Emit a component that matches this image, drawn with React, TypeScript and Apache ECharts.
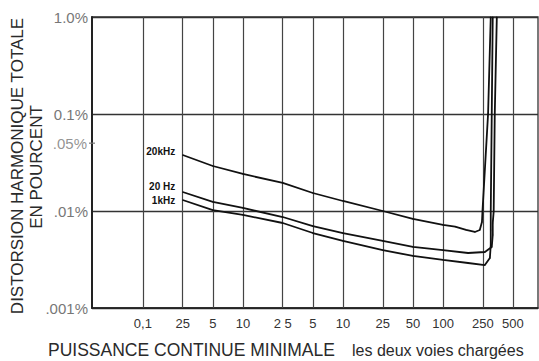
import React, { useEffect, useRef } from "react";
import * as echarts from "echarts";

// Power (W) grid positions and their printed labels
const xGridW = [0.1, 0.25, 0.5, 1, 2.5, 5, 10, 25, 50, 100, 250, 500];
const xTickLabels = ["0,1", "25", "5", "10", "2 5", "5", "10", "25", "50", "100", "250", "500"];

// THD (%) axis ticks and labels
const yTickValues = [0.001, 0.01, 0.1, 1];
const yTickLabels = [".001%", ".01%", "0.1%", "1.0%"];
const yExtraTick = 0.05;
const yExtraLabel = ".05%";

// Curves: power (W) and THD (%)
const powerW20k = [0.25, 0.5, 1, 2.5, 5, 10, 25, 50, 100, 132, 170, 208, 233, 245, 248, 282, 300];
const thd20k = [0.0378, 0.0291, 0.0241, 0.01945, 0.01533, 0.01268, 0.01, 0.00828, 0.00718, 0.0069, 0.0064, 0.00608, 0.00637, 0.0077, 0.0099, 0.1, 1.0];

const powerW20Hz = [0.25, 0.5, 1, 2.5, 5, 10, 25, 50, 100, 178, 262, 307, 314, 314, 321, 329, 345];
const thd20Hz = [0.0157, 0.0124, 0.01074, 0.00867, 0.007, 0.00593, 0.00491, 0.00426, 0.00396, 0.00369, 0.00378, 0.00426, 0.00566, 0.0075, 0.0099, 0.1, 1.0];

const powerW1k = [0.25, 0.5, 1, 2.5, 5, 10, 25, 50, 100, 178, 262, 294, 300, 300, 300, 307, 314];
const thd1k = [0.01298, 0.01023, 0.0091, 0.00752, 0.00593, 0.00491, 0.00396, 0.00344, 0.00313, 0.00291, 0.00277, 0.00327, 0.00446, 0.00637, 0.0099, 0.1, 1.0];

const seriesNames = ["20kHz", "20 Hz", "1kHz"];

const X_MIN = 0.031;
const X_MAX = 890;

function pairs(xs: number[], ys: number[], labelOffset: number[]) {
  return xs.map((x, i) =>
    i === 0
      ? {
          value: [x, ys[i]],
          label: { show: true, position: "left", distance: 7, offset: labelOffset },
        }
      : { value: [x, ys[i]] }
  );
}

export default function App() {
  const ref = useRef<HTMLDivElement>(null);
  useEffect(() => {
    if (!ref.current) return;
    const chart = echarts.init(ref.current, null, { renderer: "svg" });
    const font = "Liberation Sans, Arial, sans-serif";
    const curveLabel = {
      show: false,
      formatter: "{a}",
      color: "#111",
      fontSize: 10,
      fontWeight: "bold",
      fontFamily: font,
    };
    const lineStyle = { color: "#111", width: 1.8 };
    const common = {
      type: "line",
      symbol: "circle",
      symbolSize: 1,
      showSymbol: true,
      showAllSymbol: true,
      itemStyle: { color: "#111" },
      lineStyle,
      label: curveLabel,
      z: 5,
    };
    chart.setOption({
      animation: false,
      backgroundColor: "#fff",
      grid: {
        left: 92,
        right: 1,
        top: 17,
        bottom: 53,
        show: true,
        borderColor: "#333",
        borderWidth: 1.3,
      },
      xAxis: {
        type: "log",
        min: X_MIN,
        max: X_MAX,
        axisLine: { show: true, lineStyle: { color: "#222", width: 1.5 } },
        axisTick: { show: false },
        axisLabel: { show: false },
        splitLine: { show: false },
        minorSplitLine: { show: false },
      },
      yAxis: {
        type: "log",
        min: 0.001,
        max: 1,
        axisLine: { show: true, lineStyle: { color: "#222", width: 2 } },
        axisTick: { show: false },
        splitLine: { show: true, lineStyle: { color: "#333", width: 1.4 } },
        axisLabel: {
          color: "#777",
          fontSize: 15,
          fontFamily: font,
          margin: 4,
          formatter: (v: number) => {
            const i = yTickValues.findIndex((t) => Math.abs(Math.log10(t) - Math.log10(v)) < 1e-6);
            return i >= 0 ? yTickLabels[i] : "";
          },
        },
      },
      series: [
        {
          ...common,
          name: seriesNames[0],
          data: pairs(powerW20k, thd20k, [0, -3]),
          markLine: {
            silent: true,
            symbol: ["none", "none"],
            lineStyle: { type: "solid", color: "#444", width: 1.2 },
            label: {
              show: true,
              position: "start",
              distance: 9,
              formatter: "{b}",
              color: "#333",
              fontSize: 13,
              fontFamily: font,
            },
            data: xGridW.map((w, i) => ({ xAxis: w, name: xTickLabels[i] })),
          },
        },
        {
          ...common,
          name: seriesNames[1],
          data: pairs(powerW20Hz, thd20Hz, [0, -5]),
        },
        {
          ...common,
          name: seriesNames[2],
          data: pairs(powerW1k, thd1k, [0, 0]),
        },
        {
          name: "tick",
          type: "scatter",
          symbol: "rect",
          symbolSize: [6, 1.5],
          clip: false,
          itemStyle: { color: "#777" },
          data: [[X_MIN, yExtraTick]],
          label: {
            show: true,
            position: "left",
            distance: 2,
            formatter: yExtraLabel,
            color: "#777",
            fontSize: 15,
            fontFamily: font,
          },
        },
      ],
      graphic: [
        {
          type: "text",
          x: 17,
          y: 166,
          rotation: Math.PI / 2,
          style: {
            text: "DISTORSION HARMONIQUE TOTALE",
            font: "17px " + font,
            fill: "#2a2a2a",
            textAlign: "center",
            textVerticalAlign: "middle",
          },
        },
        {
          type: "text",
          x: 36,
          y: 167,
          rotation: Math.PI / 2,
          style: {
            text: "EN POURCENT",
            font: "17px " + font,
            fill: "#2a2a2a",
            textAlign: "center",
            textVerticalAlign: "middle",
          },
        },
        {
          type: "text",
          x: 48,
          y: 350,
          style: {
            text: "PUISSANCE CONTINUE MINIMALE",
            font: "17.5px " + font,
            fill: "#2a2a2a",
            textAlign: "left",
            textVerticalAlign: "middle",
          },
        },
        {
          type: "text",
          x: 352,
          y: 350,
          style: {
            text: "les deux voies chargées",
            font: "16px " + font,
            fill: "#2a2a2a",
            textAlign: "left",
            textVerticalAlign: "middle",
          },
        },
      ],
    });
    return () => chart.dispose();
  }, []);
  return (
    <div
      ref={ref}
      style={{ position: "absolute", left: 0, top: 0, width: 539, height: 361, background: "#fff" }}
    />
  );
}
